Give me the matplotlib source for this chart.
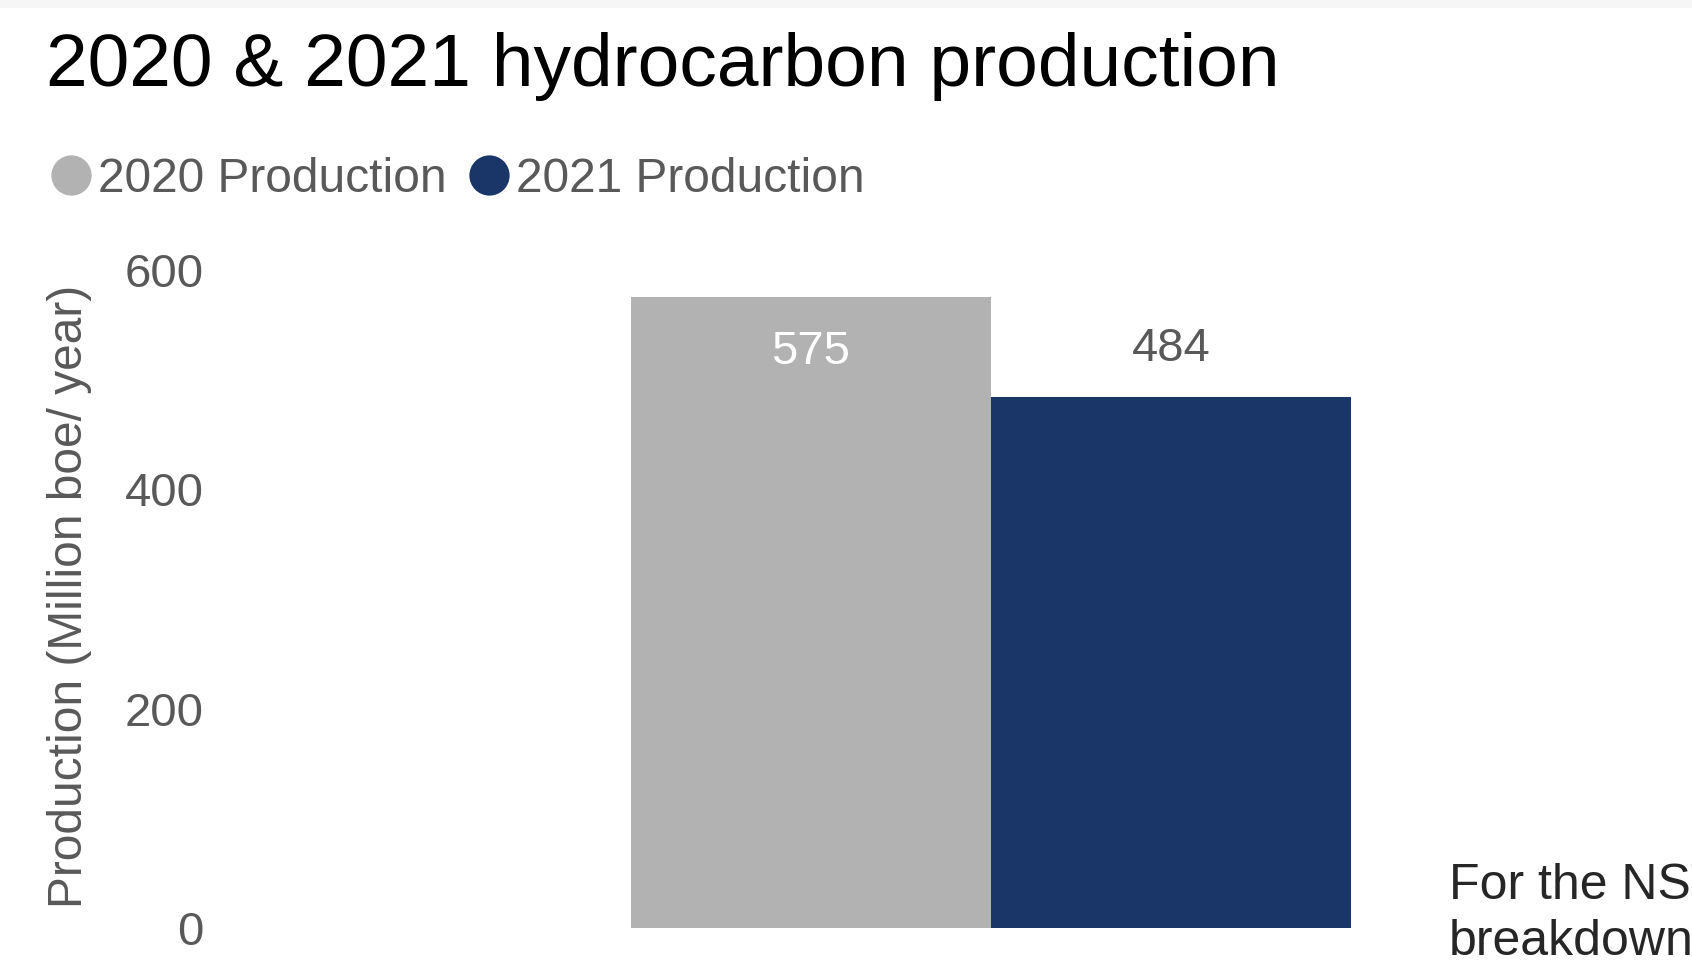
import matplotlib
matplotlib.use("Agg")
import matplotlib.pyplot as plt
from matplotlib.lines import Line2D
from matplotlib.patches import Rectangle

plt.rcParams['font.family'] = ['Liberation Sans', 'DejaVu Sans']

# Data
series = ["2020 Production", "2021 Production"]
values = [575, 484]
colors = ["#b2b2b2", "#1a3668"]
label_colors = ["#ffffff", "#595959"]
yticks = [0, 200, 400, 600]
note_lines = ["For the NSTA's", "breakdown"]

W, H = 1692, 964
fig = plt.figure(figsize=(W / 100, H / 100), dpi=100)
fig.patch.set_facecolor("white")

# thin light strip across the top
fig.add_artist(Rectangle((0, 1 - 8 / H), 1, 8 / H, transform=fig.transFigure,
                         facecolor="#f6f6f6", edgecolor="none"))

left_px, right_px, top_px, bot_px = 215, 1420, 270, 928
ax = fig.add_axes([left_px / W, 1 - bot_px / H,
                   (right_px - left_px) / W, (bot_px - top_px) / H])

positions = [-0.5, 0.5]
bars = ax.bar(positions, values, width=1.0, color=colors, edgecolor="none")

ax.set_ylim(0, 600)
unit = 360.0
center = 991.0
ax.set_xlim((left_px - center) / unit, (right_px - center) / unit)
ax.set_yticks(yticks)
ax.set_yticklabels([str(t) for t in yticks])
ax.set_xticks([])
ax.tick_params(axis="y", length=0, pad=8, labelsize=34, labelcolor="#595959")
for s in ax.spines.values():
    s.set_visible(False)

# value labels: first inside the bar top, second above the bar
offsets = [-39, 35]
for x, v, c, off in zip(positions, values, label_colors, offsets):
    ax.annotate(str(v), (x, v), xytext=(0, off), textcoords="offset points",
                ha="center", va="center", fontsize=34, color=c)

fig.text(70 / W, 1 - 596 / H, "Production (Million boe/ year)", rotation=90,
         ha="center", va="center", fontsize=34.5, color="#595959")

fig.text(46 / W, 1 - 86 / H, "2020 & 2021 hydrocarbon production",
         ha="left", va="baseline", fontsize=54, color="black")

handles = [Line2D([], [], linestyle="none", marker="o", markersize=29,
                  markerfacecolor=c, markeredgecolor="none") for c in colors]
fig.legend(handles, series, loc="center left",
           bbox_to_anchor=(47 / W, 1 - 179 / H), ncol=2, frameon=False,
           fontsize=34.5, labelcolor="#595959", handlelength=1.0,
           handletextpad=0.07, columnspacing=0.38, borderpad=0,
           borderaxespad=0)

for line, ypx in zip(note_lines, [886, 942]):
    fig.text(1449 / W, 1 - ypx / H, line,
             ha="left", va="center", fontsize=36, color="#262626")

fig.savefig("out.png", dpi=100)
